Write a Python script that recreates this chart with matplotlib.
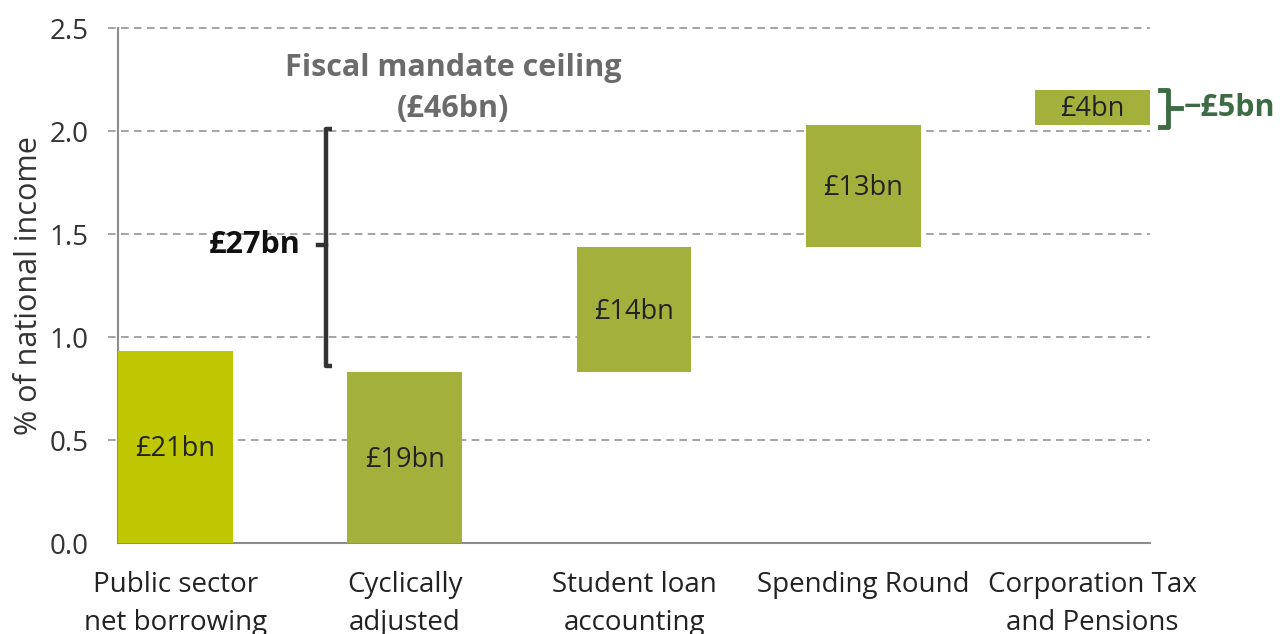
import numpy as np
import matplotlib
matplotlib.use("Agg")
import matplotlib.pyplot as plt

# data (% of national income)
categories = ["Public sector\nnet borrowing", "Cyclically\nadjusted", "Student loan\naccounting",
              "Spending Round", "Corporation Tax\nand Pensions"]
bottoms = [0.0, 0.0, 0.83, 1.437, 2.03]
tops = [0.932, 0.83, 1.437, 2.03, 2.20]
bar_labels = ["£21bn", "£19bn", "£14bn", "£13bn", "£4bn"]
yticks = [0.0, 0.5, 1.0, 1.5, 2.0, 2.5]

bracket_lo, bracket_hi, bracket_mid = 0.86, 2.01, 1.445
brace_lo, brace_hi = 2.02, 2.20

plt.rcParams['font.family'] = ['Open Sans', 'DejaVu Sans']

col_first = "#bfc700"
col_rest = "#a3b03b"
grey = "#8c8c8c"
dark_green = "#3d6b44"

fig = plt.figure(figsize=(12.87, 6.34), dpi=100)
ax = fig.add_axes([0.0917, 0.1435, 0.8019, 0.8123])

x = np.arange(len(categories))
heights = [t - b for t, b in zip(tops, bottoms)]
colors = [col_first] + [col_rest] * (len(categories) - 1)
ax.bar(x, heights, bottom=bottoms, width=0.5, color=colors, zorder=3)

for xi, b, t, lab in zip(x, bottoms, tops, bar_labels):
    ax.text(xi, (b + t) / 2 - 0.01, lab, ha="center", va="center", fontsize=19.5, color="#222222", zorder=4)

ax.set_xlim(-0.25, 4.25)
ax.set_ylim(0, 2.5)

for yv in yticks[1:]:
    ax.axhline(yv, xmin=-0.01, xmax=1, color=grey, lw=1.1, ls=(0, (5, 3.5)), clip_on=False, zorder=1)

for s in ["top", "right"]:
    ax.spines[s].set_visible(False)
ax.spines["left"].set_color(grey)
ax.spines["bottom"].set_color(grey)
ax.spines["left"].set_linewidth(1.5)
ax.spines["bottom"].set_linewidth(1.5)

ax.set_yticks(yticks)
ax.set_yticklabels([f"{v:.1f}" for v in yticks], fontsize=20, color="#333333")
ax.tick_params(axis="y", length=0, pad=21)
ax.set_xticks(x)
ax.set_xticklabels(categories, fontsize=20, color="#222222", linespacing=1.48)
ax.tick_params(axis="x", length=0, pad=20)
ax.set_ylabel("% of national income", fontsize=22, color="#333333", labelpad=4)

# £27bn bracket
bx = 0.655
ax.plot([bx + 0.03, bx, bx, bx + 0.03], [bracket_hi, bracket_hi, bracket_lo, bracket_lo],
        color="#333333", lw=3.2, solid_joinstyle="round", solid_capstyle="butt", zorder=5)
ax.plot([bx - 0.035, bx], [bracket_mid, bracket_mid], color="#333333", lw=3.2, zorder=5)
ax.text(bx - 0.11, bracket_mid, "£27bn", ha="right", va="center", fontsize=22,
        fontweight="bold", color="#111111")

ax.text(1.21, 2.205, "Fiscal mandate ceiling\n(£46bn)", ha="center", va="center", fontsize=22,
        fontweight="bold", color="#6b6b6b", linespacing=1.48)

# -£5bn brace
cx = 4.295
ax.plot([cx, cx + 0.035, cx + 0.035, cx], [brace_hi, brace_hi, brace_lo, brace_lo],
        color=dark_green, lw=3.5, solid_joinstyle="round", clip_on=False, zorder=5)
ax.plot([cx + 0.035, cx + 0.09], [(brace_lo + brace_hi) / 2] * 2, color=dark_green, lw=3.5,
        clip_on=False, zorder=5)
ax.text(cx + 0.1, (brace_lo + brace_hi) / 2, "−£5bn", ha="left", va="center", fontsize=22,
        fontweight="bold", color=dark_green)

fig.savefig("out.png", dpi=100)
